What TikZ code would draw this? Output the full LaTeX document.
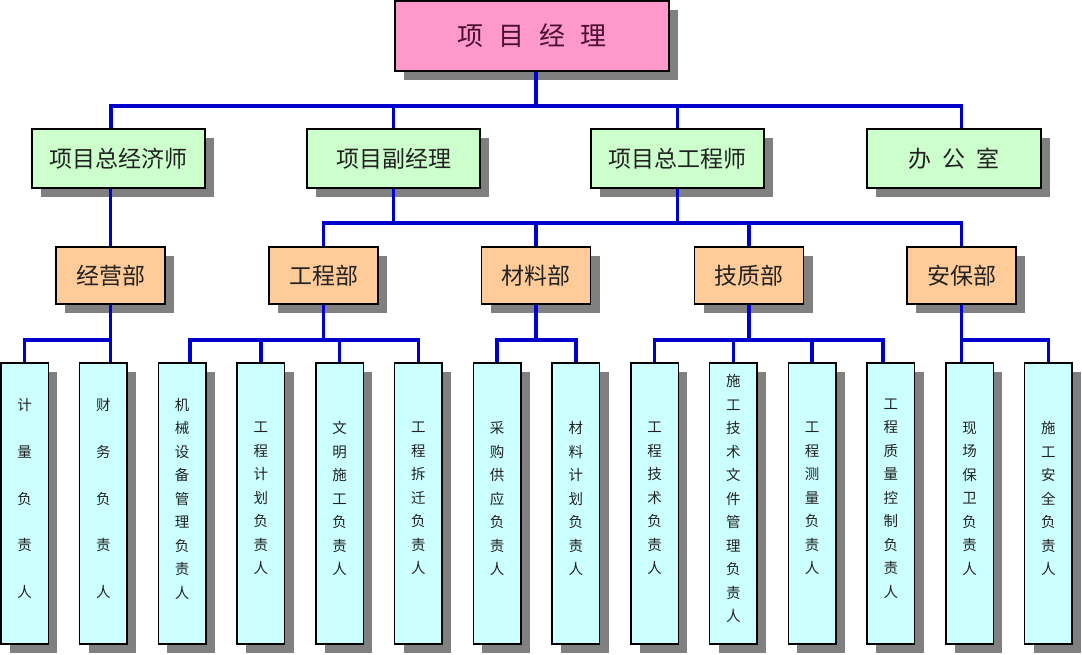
\documentclass[tikz,border=0pt]{standalone}
\usepackage{fontspec}
\newfontfamily\cjk{Noto Sans CJK SC}
\usetikzlibrary{shadows}
\definecolor{pinkfill}{HTML}{FF99CC}
\definecolor{greenfill}{HTML}{CCFFCC}
\definecolor{orangefill}{HTML}{FFCC99}
\definecolor{cyanfill}{HTML}{CCFFFF}
\definecolor{lineblue}{HTML}{0000CC}
\definecolor{toptext}{HTML}{4A1030}
\definecolor{bodytext}{HTML}{222222}
\newcommand\lowpad{\rule[-11pt]{0pt}{0pt}}
\begin{document}
\begin{tikzpicture}[x=1pt,y=-1pt,
  box/.style={draw=black, line width=1.5pt, inner sep=0pt, text=bodytext,
    drop shadow={shadow xshift=9pt, shadow yshift=-9pt, fill=black!50, opacity=1}},
  lvlone/.style={box, fill=pinkfill, minimum width=274pt, minimum height=70pt,
    font=\cjk\fontsize{26}{30}\selectfont, text=toptext},
  lvltwo/.style={box, fill=greenfill, minimum width=173pt, minimum height=59pt,
    font=\cjk\fontsize{23}{27}\selectfont},
  lvlthree/.style={box, fill=orangefill, minimum width=109pt, minimum height=57pt,
    font=\cjk\fontsize{23}{27}\selectfont},
  lvlfour/.style={box, fill=cyanfill, minimum width=47.5pt, minimum height=281pt,
    align=center, font=\cjk\fontsize{14.5}{23.5}\selectfont},
  lvlfourwide/.style={lvlfour, font=\cjk\fontsize{14.5}{46.8}\selectfont},
  conn/.style={draw=lineblue, line width=3.5pt}]
\useasboundingbox (0,0) rectangle (1082,655);

% level 1
\node[lvlone] (pm) at (532,36) {项\hspace{14.7pt}目\hspace{14.7pt}经\hspace{14.7pt}理};

% level 2
\node[lvltwo] (n1) at (118.5,158.5) {项目总经济师};
\node[lvltwo] (n2) at (393.5,158.5) {项目副经理};
\node[lvltwo] (n3) at (677.5,158.5) {项目总工程师};
\node[lvltwo, minimum width=174pt] (n4) at (954,158.5) {办\hspace{11pt}公\hspace{11pt}室};

% level 3
\node[lvlthree] (d1) at (110.5,275.5) {经营部};
\node[lvlthree] (d2) at (323.5,275.5) {工程部};
\node[lvlthree] (d3) at (536,275.5) {材料部};
\node[lvlthree] (d4) at (749,275.5) {技质部};
\node[lvlthree] (d5) at (961.5,275.5) {安保部};

% level 4
\node[lvlfourwide] (p1) at (24.5,503.5) {计\\量\\负\\责\\人\lowpad};
\node[lvlfourwide] (p2) at (103.25,503.5) {财\\务\\负\\责\\人\lowpad};
\node[lvlfour] (p3) at (182,503.5) {机\\械\\设\\备\\管\\理\\负\\责\\人\lowpad};
\node[lvlfour] (p4) at (260.75,503.5) {工\\程\\计\\划\\负\\责\\人\lowpad};
\node[lvlfour] (p5) at (339.5,503.5) {文\\明\\施\\工\\负\\责\\人\lowpad};
\node[lvlfour] (p6) at (418.25,503.5) {工\\程\\拆\\迁\\负\\责\\人\lowpad};
\node[lvlfour] (p7) at (497,503.5) {采\\购\\供\\应\\负\\责\\人\lowpad};
\node[lvlfour] (p8) at (575.75,503.5) {材\\料\\计\\划\\负\\责\\人\lowpad};
\node[lvlfour] (p9) at (654.5,503.5) {工\\程\\技\\术\\负\\责\\人\lowpad};
\node[lvlfour] (p10) at (733.25,503.5) {施\\工\\技\\术\\文\\件\\管\\理\\负\\责\\人\lowpad};
\node[lvlfour] (p11) at (812,503.5) {工\\程\\测\\量\\负\\责\\人\lowpad};
\node[lvlfour] (p12) at (890.75,503.5) {工\\程\\质\\量\\控\\制\\负\\责\\人\lowpad};
\node[lvlfour] (p13) at (969.5,503.5) {现\\场\\保\\卫\\负\\责\\人\lowpad};
\node[lvlfour] (p14) at (1048.25,503.5) {施\\工\\安\\全\\负\\责\\人\lowpad};

% bus levels
\coordinate (busA) at (0,106);
\coordinate (busB) at (0,223);
\coordinate (busC) at (0,340);

% level 1 -> level 2
\draw[conn] ([xshift=4pt]pm.south) -- ([xshift=4pt]pm.south |- busA);
\draw[conn] ([xshift=-7.5pt]n1.north) -- ([xshift=-7.5pt]n1.north |- busA)
  -- ([xshift=7.5pt]n4.north |- busA) -- ([xshift=7.5pt]n4.north);
\draw[conn] (n2.north) -- (n2.north |- busA);
\draw[conn] (n3.north) -- (n3.north |- busA);

% level 2 -> level 3
\draw[conn] (n1.south -| d1.north) -- (d1.north);
\draw[conn] (n2.south) -- (n2.south |- busB);
\draw[conn] (n3.south) -- (n3.south |- busB);
\draw[conn] (d2.north) -- (d2.north |- busB) -- (d5.north |- busB) -- (d5.north);
\draw[conn] (d3.north) -- (d3.north |- busB);
\draw[conn] (d4.north) -- (d4.north |- busB);

% 经营部
\draw[conn] (d1.south) -- (d1.south |- busC) -- (p1.north |- busC) -- (p1.north);
\draw[conn] (d1.south |- busC) -- (d1.south |- p2.north);
% 工程部
\draw[conn] (d2.south) -- (d2.south |- busC);
\draw[conn] ([xshift=8pt]p3.north) -- ([xshift=8pt]p3.north |- busC)
  -- (p6.north |- busC) -- (p6.north);
\draw[conn] (p4.north) -- (p4.north |- busC);
\draw[conn] (p5.north) -- (p5.north |- busC);
% 材料部
\draw[conn] (d3.south) -- (d3.south |- busC);
\draw[conn] (p7.north) -- (p7.north |- busC) -- (p8.north |- busC) -- (p8.north);
% 技质部
\draw[conn] (d4.south) -- (d4.south |- busC);
\draw[conn] (p9.north) -- (p9.north |- busC)
  -- ([xshift=-8pt]p12.north |- busC) -- ([xshift=-8pt]p12.north);
\draw[conn] (p10.north) -- (p10.north |- busC);
\draw[conn] (p11.north) -- (p11.north |- busC);
% 安保部
\draw[conn] (d5.south) -- (d5.south |- busC) -- (p14.north |- busC) -- (p14.north);
\draw[conn] (d5.south |- busC) -- (d5.south |- p13.north);
\end{tikzpicture}
\end{document}
